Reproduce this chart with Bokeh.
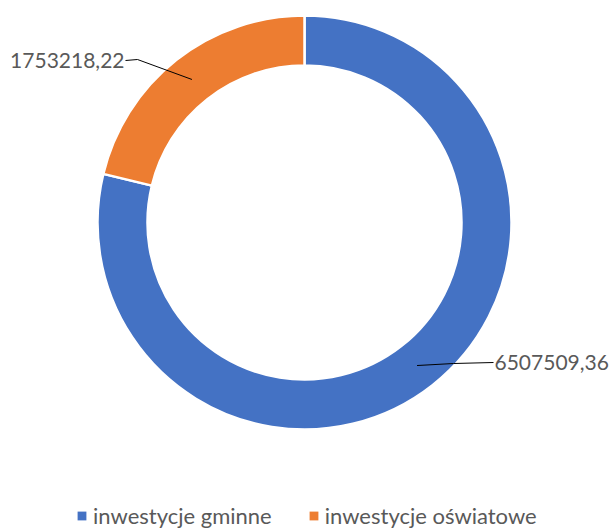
import math
from bokeh.plotting import figure
from bokeh.models import Range1d, Legend, LegendItem
from bokeh.core.properties import value
from bokeh.embed import file_html
from bokeh.resources import INLINE

# ---- data ----
categories = ["inwestycje gminne", "inwestycje oświatowe"]
amounts = [6507509.36, 1753218.22]
value_labels = ["6507509,36", "1753218,22"]
colors = ["#4472C4", "#ED7D31"]

# ---- layout / style ----
W, H = 613, 530
CX, CY = 304, 308          # donut centre (data y = 530 - screen y)
R_IN, R_OUT = 157, 207
TEXT_COLOR = "#595959"
FONT = "Lato"

p = figure(width=W, height=H, output_backend="svg", toolbar_location=None,
           x_range=Range1d(0, W), y_range=Range1d(530 - H, 530),
           min_border=0)
p.axis.visible = False
p.grid.visible = False
p.outline_line_color = None
p.background_fill_color = "white"

total = sum(amounts)
a = math.pi / 2
starts, ends, mids = [], [], []
for v in amounts:
    sweep = 2 * math.pi * v / total
    starts.append(a)
    ends.append(a - sweep)
    mids.append(a - sweep / 2)
    a -= sweep

p.annular_wedge(x=[CX] * len(amounts), y=[CY] * len(amounts),
                inner_radius=R_IN, outer_radius=R_OUT,
                start_angle=starts, end_angle=ends, direction="clock",
                fill_color=colors, line_color="white", line_width=2.5)

# leader lines and labels
r_mid = (R_IN + R_OUT) / 2
# elbow and text anchor positions (screen px, y measured from top)
elbows = [(453, 363), (137, 59)]
text_pos = [(493, 362), (125, 60)]
aligns = ["left", "right"]
for i in range(len(amounts)):
    px = CX + r_mid * math.cos(mids[i])
    py = CY + r_mid * math.sin(mids[i])
    ex, ey = elbows[i][0], 530 - elbows[i][1]
    tx, ty = text_pos[i][0], 530 - text_pos[i][1]
    p.line([px, ex, tx], [py, ey, ty], line_color="black", line_width=1)
    p.text(x=[tx + (1 if aligns[i] == "left" else -1)], y=[ty],
           text=[value_labels[i]], text_align=aligns[i],
           text_baseline="middle", text_font=value(FONT),
           text_font_size="21px", text_color=TEXT_COLOR)

# legend
items = []
for i, c in enumerate(categories):
    r = p.rect(x=[float("nan")], y=[float("nan")], width=1, height=1,
               fill_color=colors[i], line_color=None)
    items.append(LegendItem(label=c, renderers=[r]))
legend = Legend(items=items, orientation="horizontal", location=(76, 1),
                label_text_font=FONT, label_text_font_size="22px",
                label_text_color=TEXT_COLOR, glyph_width=11, glyph_height=11,
                label_standoff=6, spacing=36, padding=0, margin=0,
                border_line_color=None, background_fill_alpha=0)
p.add_layout(legend)

open("out.html", "w").write(file_html(p, INLINE))
